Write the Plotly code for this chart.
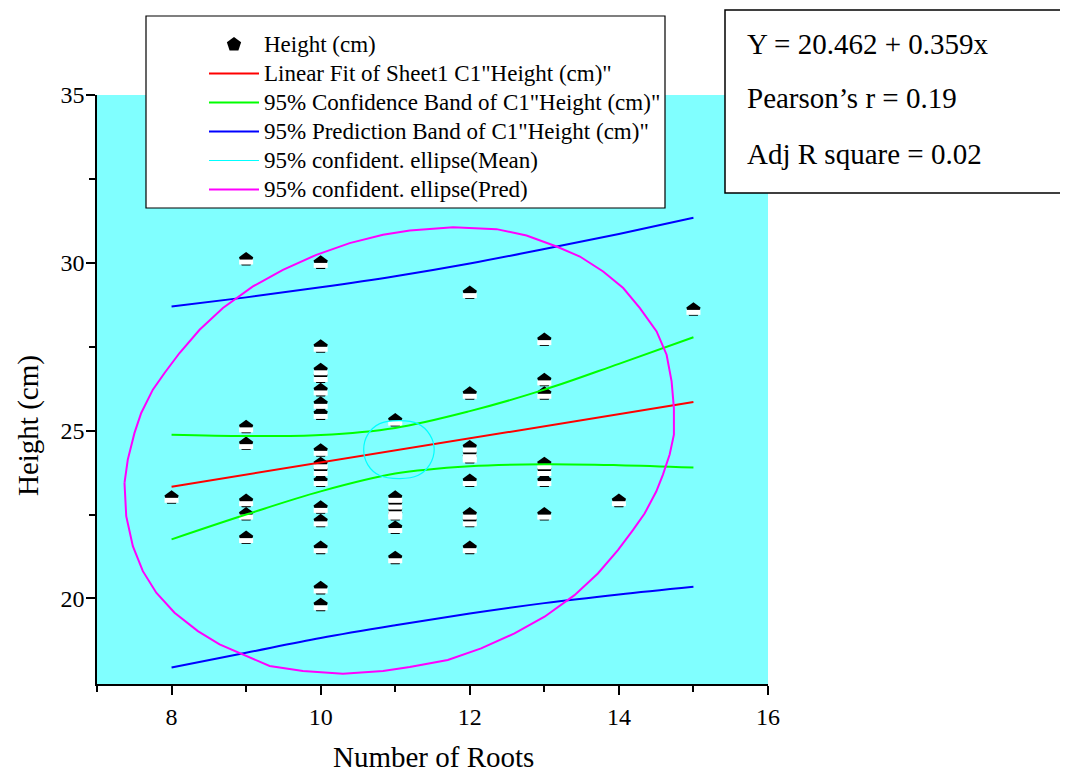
import plotly.graph_objects as go

# ---- data ----
roots = [8,
         9, 9, 9, 9, 9, 9,
         10, 10, 10, 10, 10, 10, 10, 10, 10, 10, 10, 10, 10, 10, 10, 10,
         11, 11, 11, 11, 11, 11, 11,
         12, 12, 12, 12, 12, 12, 12, 12, 12,
         13, 13, 13, 13, 13, 13, 13,
         14, 15]
heights = [23.0,
           30.1, 25.1, 24.6, 22.9, 22.5, 21.8,
           30.0, 27.5, 26.8, 26.6, 26.2, 25.8, 25.5, 24.4, 24.0, 23.8, 23.5, 22.7, 22.3, 21.5, 20.3, 19.8,
           25.3, 23.0, 22.8, 22.6, 22.5, 22.1, 21.2,
           29.1, 26.1, 24.5, 24.3, 24.2, 23.5, 22.5, 22.3, 21.5,
           27.7, 26.5, 26.1, 24.0, 23.8, 23.5, 22.5,
           22.9, 28.6]

fit_x = [8, 15]
fit_y = [23.33, 25.85]

band_x = [8, 9, 10, 11, 12, 13, 14, 15]
conf_upper = [24.88, 24.84, 24.87, 25.08, 25.58, 26.22, 26.99, 27.78]
conf_lower = [21.76, 22.50, 23.19, 23.72, 23.94, 24.00, 23.97, 23.90]
pred_upper = [28.70, 28.97, 29.27, 29.60, 29.98, 30.41, 30.86, 31.34]
pred_lower = [17.94, 18.38, 18.82, 19.20, 19.55, 19.86, 20.12, 20.35]

mean_ell_x = [11.523, 11.463, 11.302, 11.060, 10.792, 10.631, 10.577, 10.631, 10.792, 11.060, 11.302, 11.463, 11.523]
mean_ell_y = [24.435, 24.881, 25.208, 25.298, 25.208, 24.881, 24.435, 23.988, 23.661, 23.571, 23.661, 23.988, 24.435]

pred_ell_x = [7.369, 7.413, 7.503, 7.593, 7.749, 7.906, 8.107, 8.376, 8.689, 9.091, 9.494, 9.942,
              10.389, 10.836, 11.195, 11.776, 12.358, 12.761, 13.164, 13.477, 13.789, 14.058, 14.282,
              14.506, 14.640, 14.707, 14.738, 14.738, 14.681, 14.591, 14.501, 14.345, 14.188, 13.987,
              13.718, 13.405, 13.003, 12.600, 12.152, 11.705, 11.195, 10.836, 10.299, 9.762, 9.315,
              8.957, 8.644, 8.353, 8.040, 7.795, 7.615, 7.481, 7.392, 7.369]
pred_ell_y = [23.443, 24.137, 24.932, 25.527, 26.220, 26.717, 27.312, 28.006, 28.652, 29.295, 29.792, 30.238,
              30.586, 30.833, 30.961, 31.062, 31.003, 30.812, 30.485, 30.187, 29.741, 29.247, 28.652,
              27.955, 27.262, 26.467, 25.676, 24.881, 24.286, 23.690, 23.185, 22.530, 22.033, 21.438,
              20.744, 20.098, 19.455, 18.958, 18.512, 18.164, 17.955, 17.836, 17.759, 17.836, 17.985,
              18.333, 18.631, 19.027, 19.574, 20.170, 20.812, 21.557, 22.449, 23.443]

x_major = [8, 10, 12, 14, 16]
x_minor = [7, 9, 11, 13, 15]
y_major = [20, 25, 30, 35]
y_minor = [22.5, 27.5, 32.5]

x_title = "Number of Roots"
y_title = "Height (cm)"
legend_names = ["Height (cm)",
                'Linear Fit of Sheet1 C1"Height (cm)"',
                '95% Confidence Band of C1"Height (cm)"',
                '95% Prediction Band of C1"Height (cm)"',
                "95% confident. ellipse(Mean)",
                "95% confident. ellipse(Pred)"]
stats_lines = ["Y = 20.462 + 0.359x", "Pearson\u2019s r = 0.19", "Adj R square = 0.02"]

# ---- layout geometry (page body has an 8px margin) ----
OFF = 8
SW, SH = 1068, 775               # screen size
W, H = SW - OFF, SH - OFF        # figure size
P_L, P_R, P_T, P_B = 97, 768, 95, 684   # plot area in screen px
ML, MT = P_L - OFF, P_T - OFF
MR, MB = SW - P_R, SH - P_B
PW, PH = P_R - P_L, P_B - P_T
XR = [7, 16]
YR = [17.45, 35]
ppu = PH / (YR[1] - YR[0])
shift = 2.6 / ppu   # white lower part of the markers sits a bit below centre

def px(xp):
    return (xp - P_L) / PW

def py(yp):
    return (P_B - yp) / PH

def lg(name):
    return '<span style="font-size:23px">' + name + '</span>'

FONT = "Liberation Serif, Times New Roman, serif"

fig = go.Figure()

# markers: black pentagon + white lower band
fig.add_trace(go.Scatter(x=roots, y=heights, mode="markers", name=lg(legend_names[0]),
                         marker=dict(symbol="pentagon", size=15, color="black", line=dict(width=0)),
                         legendrank=1, yaxis="y"))
fig.add_trace(go.Scatter(x=roots, y=heights, mode="markers", showlegend=False, hoverinfo="skip",
                         marker=dict(symbol="line-ew", size=10, color="white",
                                     line=dict(width=5, color="white")),
                         yaxis="y2"))

lw = 2
fig.add_trace(go.Scatter(x=fit_x, y=fit_y, mode="lines", name=lg(legend_names[1]),
                         line=dict(color="#FF0000", width=lw), legendrank=2, yaxis="y3"))
fig.add_trace(go.Scatter(x=band_x, y=conf_upper, mode="lines", name=lg(legend_names[2]),
                         line=dict(color="#00FF00", width=lw, shape="spline"), legendrank=3, yaxis="y3"))
fig.add_trace(go.Scatter(x=band_x, y=conf_lower, mode="lines", showlegend=False,
                         line=dict(color="#00FF00", width=lw, shape="spline"), yaxis="y3"))
fig.add_trace(go.Scatter(x=band_x, y=pred_upper, mode="lines", name=lg(legend_names[3]),
                         line=dict(color="#0000FF", width=lw, shape="spline"), legendrank=4, yaxis="y3"))
fig.add_trace(go.Scatter(x=band_x, y=pred_lower, mode="lines", showlegend=False,
                         line=dict(color="#0000FF", width=lw, shape="spline"), yaxis="y3"))
fig.add_trace(go.Scatter(x=mean_ell_x, y=mean_ell_y, mode="lines", name=lg(legend_names[4]),
                         line=dict(color="#00FFFF", width=1.2, shape="spline"), legendrank=5, yaxis="y3"))
fig.add_trace(go.Scatter(x=pred_ell_x, y=pred_ell_y, mode="lines", name=lg(legend_names[5]),
                         line=dict(color="#FF00FF", width=lw), legendrank=6, yaxis="y3"))

axis_common = dict(showgrid=False, zeroline=False, showline=True, linecolor="black", linewidth=1.5,
                   ticks="outside", ticklen=9, tickwidth=1.5, tickcolor="black", automargin=False,
                   tickfont=dict(family=FONT, size=24, color="black"))

fig.update_layout(
    width=W, height=H,
    margin=dict(l=ML, r=MR, t=MT, b=MB, pad=0, autoexpand=False),
    paper_bgcolor="white", plot_bgcolor="#80FFFF",
    font=dict(family=FONT, color="black"),
    xaxis=dict(range=XR, tickmode="array", tickvals=x_major, ticktext=[str(v) for v in x_major],
               minor=dict(tickmode="array", tickvals=x_minor, ticks="outside", ticklen=6, tickwidth=1.5, tickcolor="black"),
               ticklabelstandoff=1, **axis_common),
    yaxis=dict(range=YR, tickmode="array", tickvals=y_major, ticktext=[str(v) for v in y_major],
               minor=dict(tickmode="array", tickvals=y_minor, ticks="outside", ticklen=6, tickwidth=1.5, tickcolor="black"),
               ticklabelstandoff=-3, **axis_common),
    yaxis2=dict(range=[YR[0] + shift, YR[1] + shift], overlaying="y", visible=False),
    yaxis3=dict(range=YR, overlaying="y", visible=False),
    legend=dict(x=px(204), y=py(25), xanchor="left", yanchor="top",
                bgcolor="rgba(0,0,0,0)", borderwidth=0, itemwidth=50,
                font=dict(family=FONT, size=20, color="black")),
    showlegend=True,
)

# legend box and stats box
fig.add_shape(type="rect", xref="paper", yref="paper", x0=px(146), x1=px(665), y0=py(208), y1=py(16),
              fillcolor="white", line=dict(color="black", width=1.2), layer="above")
fig.add_shape(type="rect", xref="paper", yref="paper", x0=px(725), x1=px(1075), y0=py(193), y1=py(10),
              fillcolor="white", line=dict(color="black", width=1.5), layer="above")

for txt, yc in zip(stats_lines, [44, 98, 154]):
    fig.add_annotation(text=txt, xref="paper", yref="paper", x=px(745), y=py(yc),
                       xanchor="left", yanchor="middle", showarrow=False,
                       font=dict(family=FONT, size=29, color="black"))

# axis titles
fig.add_annotation(text=x_title, xref="paper", yref="paper", x=px(433), y=py(757),
                   xanchor="center", yanchor="middle", showarrow=False,
                   font=dict(family=FONT, size=29, color="black"))
fig.add_annotation(text=y_title, xref="paper", yref="paper", x=px(28), y=py(426),
                   xanchor="center", yanchor="middle", showarrow=False, textangle=-90,
                   font=dict(family=FONT, size=29, color="black"))

fig.write_html("out.html")
